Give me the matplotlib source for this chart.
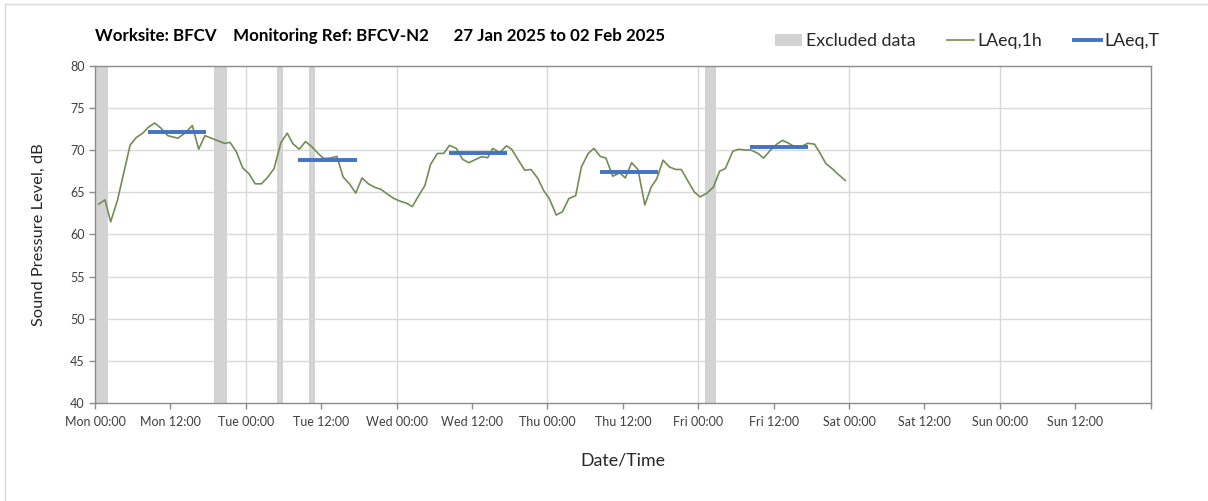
import matplotlib
matplotlib.use('Agg')
import matplotlib.pyplot as plt
from matplotlib.patches import Patch, Rectangle
from matplotlib.lines import Line2D

plt.rcParams['font.family'] = ['Lato', 'DejaVu Sans']

# hourly LAeq values (hours from Mon 00:00)
hours = [0.6, 1.6, 2.5, 3.6, 5.6, 6.6, 7.6, 8.5, 9.5, 10.5, 11.6, 13.2, 14.3, 15.5, 16.5, 17.5,
         20.6, 21.5, 22.5, 23.5, 24.5, 25.5, 26.5, 27.5, 28.5, 29.6, 30.6, 31.5, 32.5, 33.5, 34.5,
         35.5, 36.4, 37.4, 38.5, 39.5, 40.5, 41.5, 42.5, 43.5, 44.5, 45.5, 46.5, 47.6, 48.7, 49.6,
         50.5, 51.4, 52.5, 53.4, 54.5, 55.5, 56.4, 57.5, 58.5, 59.5, 60.6, 61.5, 62.5, 63.3, 64.4,
         65.5, 66.3, 67.3, 68.4, 69.4, 70.5, 71.4, 72.3, 73.4, 74.4, 75.4, 76.5, 77.4, 78.5, 79.4,
         80.4, 81.3, 82.4, 83.5, 84.4, 85.4, 86.4, 87.5, 88.5, 89.4, 90.4, 91.4, 92.4, 93.3, 94.3,
         95.4, 96.3, 97.4, 98.4, 99.4, 100.3, 101.5, 102.4, 103.5, 104.4, 105.5, 106.4, 107.5,
         108.5, 109.4, 110.4, 111.3, 112.4, 113.4, 114.5, 115.4, 116.3, 117.3, 118.3, 119.4]
laeq_1h = [63.6, 64.1, 61.5, 64.1, 70.6, 71.5, 72.0, 72.7, 73.2, 72.6, 71.7, 71.4, 72.0, 72.9, 70.1, 71.7,
           70.8, 70.9, 69.8, 67.9, 67.2, 66.0, 66.0, 66.8, 67.8, 70.9, 72.0, 70.75, 70.1, 71.0, 70.4,
           69.6, 69.0, 69.05, 69.25, 66.8, 66.0, 64.9, 66.7, 66.0, 65.6, 65.35, 64.8, 64.25, 63.9, 63.7,
           63.3, 64.45, 65.8, 68.3, 69.6, 69.6, 70.55, 70.2, 68.9, 68.5, 68.9, 69.2, 69.1, 70.2, 69.7,
           70.5, 70.1, 68.9, 67.6, 67.7, 66.6, 65.2, 64.25, 62.3, 62.7, 64.25, 64.6, 68.0, 69.6, 70.2,
           69.25, 69.05, 66.9, 67.3, 66.7, 68.5, 67.7, 63.5, 65.6, 66.6, 68.8, 68.0, 67.7, 67.7, 66.4,
           65.0, 64.45, 64.9, 65.6, 67.5, 67.8, 69.85, 70.1, 70.0, 70.0, 69.6, 69.05, 70.0,
           70.7, 71.15, 70.8, 70.4, 70.4, 70.8, 70.7, 69.6, 68.4, 67.8, 67.1, 66.4]

# period LAeq,T (daytime)
period_start = [8.4, 32.3, 56.3, 80.3, 104.3]
period_end = [17.6, 41.7, 65.6, 89.6, 113.4]
laeq_T = [72.1, 68.8, 69.6, 67.35, 70.35]

# excluded data windows
excl_start = [0, 19, 29, 34, 97]
excl_end = [2, 21, 30, 35, 98.8]

tick_labels = ['Mon 00:00', 'Mon 12:00', 'Tue 00:00', 'Tue 12:00', 'Wed 00:00', 'Wed 12:00',
               'Thu 00:00', 'Thu 12:00', 'Fri 00:00', 'Fri 12:00', 'Sat 00:00', 'Sat 12:00',
               'Sun 00:00', 'Sun 12:00', '']

fig = plt.figure(figsize=(12.08, 5.01), dpi=100)
ax = fig.add_axes([0.0786, 0.195, 0.874, 0.674])

grid_c = '#d9d9d9'
spine_c = '#8c8c8c'
text_c = '#404040'

for s, e in zip(excl_start, excl_end):
    ax.axvspan(s, e, color='#d3d3d3', lw=0, zorder=1)

for y in range(45, 80, 5):
    ax.axhline(y, color=grid_c, lw=1, zorder=0)
for x in range(24, 168, 24):
    ax.axvline(x, color=grid_c, lw=1, zorder=0)

ax.plot(hours, laeq_1h, color='#718d55', lw=1.2, zorder=3)
for s, e, v in zip(period_start, period_end, laeq_T):
    ax.plot([s, e], [v, v], color='#4472c4', lw=2.8, solid_capstyle='butt', zorder=4)

ax.set_xlim(0, 168)
ax.set_ylim(40, 80)
ax.set_xticks(range(0, 169, 12))
ax.set_xticklabels(tick_labels)
ax.set_yticks(range(40, 81, 5))

for sp in ['top', 'right', 'left', 'bottom']:
    ax.spines[sp].set_color(spine_c)
    ax.spines[sp].set_linewidth(1)
ax.tick_params(axis='both', colors=spine_c, labelcolor=text_c, labelsize=9, length=4, width=1)
ax.tick_params(axis='x', pad=5)

ax.set_xlabel('Date/Time', fontsize=12.8, color='#262626', labelpad=18)
ax.set_ylabel('Sound Pressure Level, dB', fontsize=11.8, color='#262626', labelpad=17)

fig.text(0.0786, 0.928, 'Worksite: BFCV    Monitoring Ref: BFCV-N2      27 Jan 2025 to 02 Feb 2025',
         fontsize=12.2, fontweight='bold', color='black', va='center')

handles = [Patch(facecolor='#d3d3d3', edgecolor='none'),
           Line2D([], [], color='#718d55', lw=1.2),
           Line2D([], [], color='#4472c4', lw=2.8)]
fig.legend(handles, ['Excluded data', 'LAeq,1h', 'LAeq,T'], ncol=3, frameon=False,
           loc='center right', bbox_to_anchor=(0.973, 0.918), fontsize=12.8,
           handlelength=1.5, handleheight=0.65, handletextpad=0.2, columnspacing=1.8,
           labelcolor='#262626')

# chart area border
fig.add_artist(Line2D([5 / 1208, 5 / 1208], [0, 1 - 4 / 501], color='#d9d9d9', lw=1,
                      transform=fig.transFigure))
fig.add_artist(Line2D([5 / 1208, 1], [1 - 4 / 501, 1 - 4 / 501], color='#d9d9d9', lw=1,
                      transform=fig.transFigure))

fig.savefig('out.png', dpi=100)
